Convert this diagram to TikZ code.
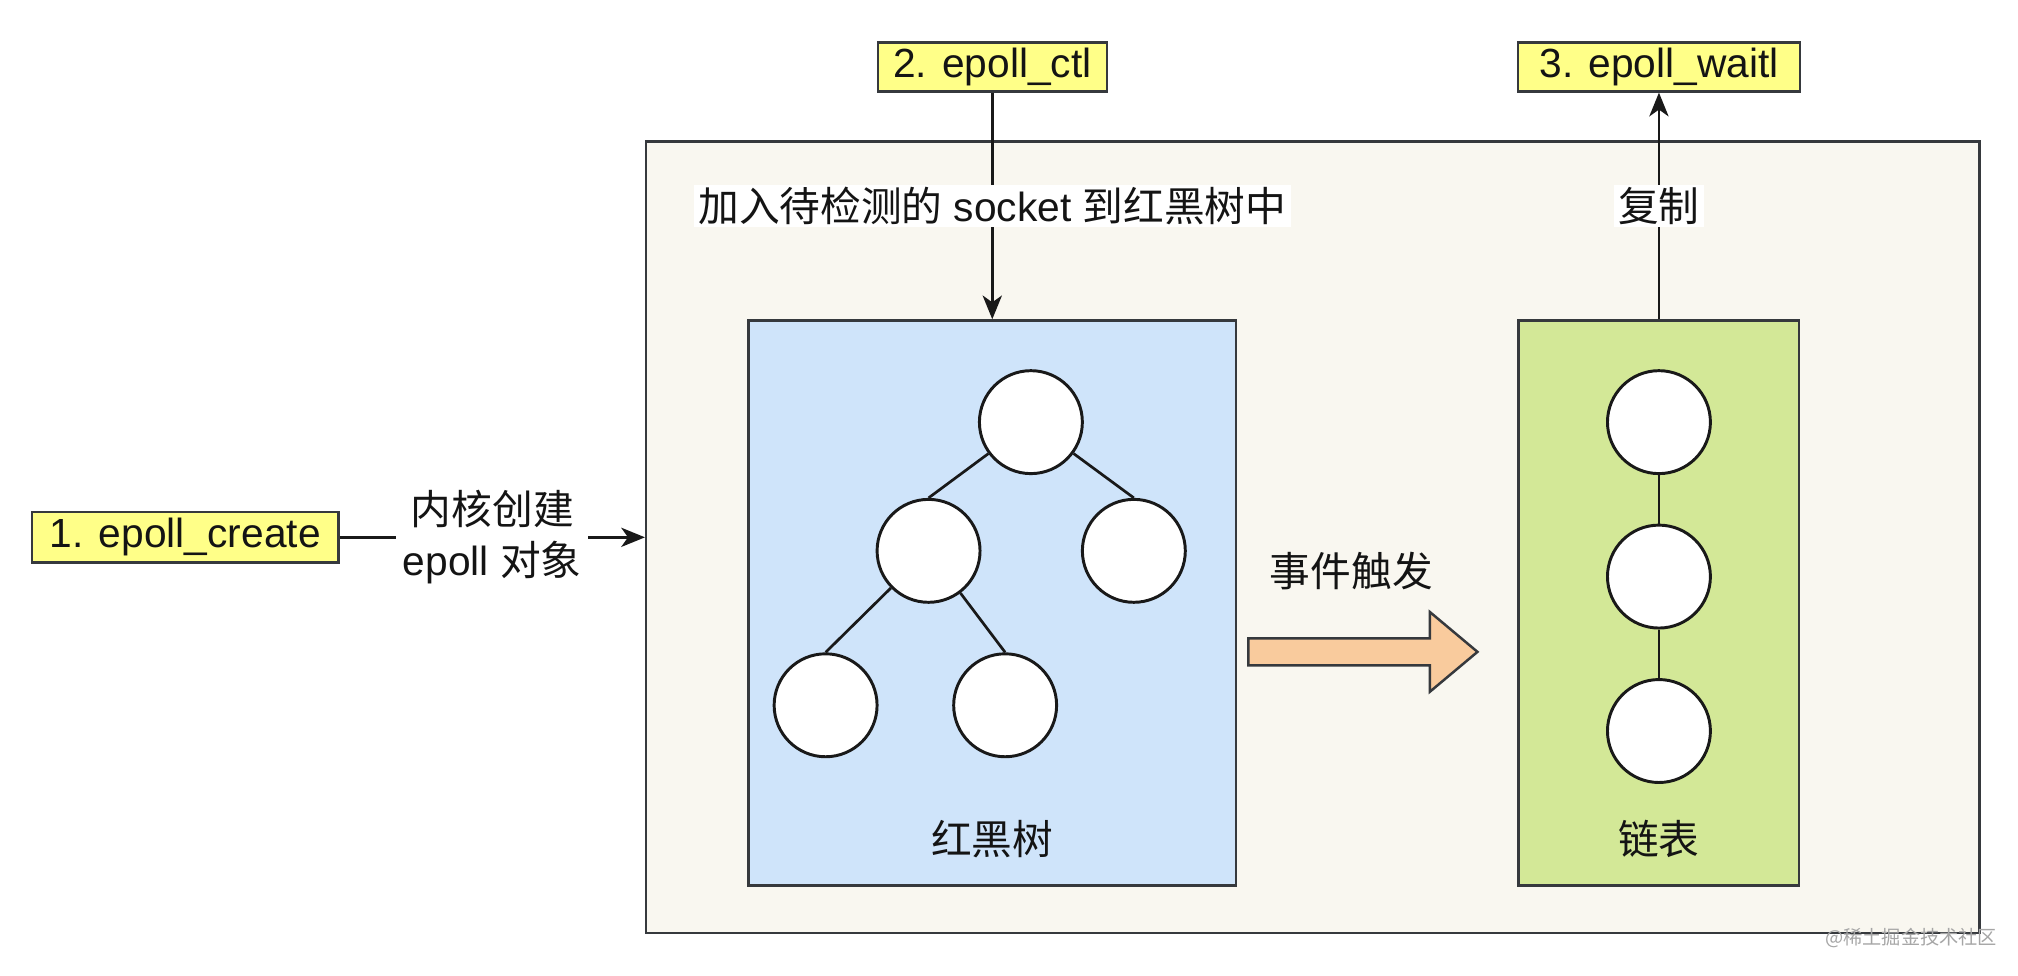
\documentclass[tikz,border=0pt]{standalone}
\usepackage{fontspec}
\setmainfont{Liberation Sans}
\newfontfamily\cjk{Noto Sans CJK SC}
\usetikzlibrary{arrows.meta,shapes.geometric}
\definecolor{strk}{HTML}{36393D}
\definecolor{ylw}{HTML}{FFFF88}
\definecolor{outerbg}{HTML}{F9F7F0}
\definecolor{bluebg}{HTML}{CFE4FA}
\definecolor{greenbg}{HTML}{D3E897}
\definecolor{orangebg}{HTML}{F9CB9D}
\definecolor{txt}{HTML}{141414}
\tikzset{
  fn/.style={draw=strk, fill=ylw, line width=1.1pt, inner sep=0pt, text=txt},
  panel/.style={draw=strk, line width=1.1pt, inner sep=0pt},
  ball/.style={circle, draw=black!90, fill=white, line width=1.3pt, minimum size=1.6cm, inner sep=0pt},
  conn/.style={draw=black!90, line width=1.2pt},
  arr/.style={conn, -{Stealth[length=10.5pt, width=8.5pt, inset=3pt]}},
  lbl/.style={fill=white, inner xsep=2pt, inner ysep=1pt, text=txt},
  plain/.style={text=txt, inner sep=0pt}
}
\begin{document}
\begin{tikzpicture}[x=0.02cm, y=-0.02cm, font=\fontsize{18}{22.7}\selectfont]
\useasboundingbox[fill=white] (0,0) rectangle (1568,758);

% outer container
\node[panel, fill=outerbg, minimum width=20.72cm, minimum height=12.3cm] (outer) at (1020,417.5) {};

% function boxes
\node[fn, minimum width=4.76cm, minimum height=0.78cm] (create) at (144,417.5) {1. epoll\_create};
\node[fn, minimum width=3.56cm, minimum height=0.76cm] (ctl) at (771,52) {2. epoll\_ctl};
\node[fn, minimum width=4.38cm, minimum height=0.76cm] (wait) at (1289,52) {3. epoll\_waitl};

% inner panels
\node[panel, fill=bluebg, minimum width=7.58cm, minimum height=8.78cm] (tree) at (771,468.5) {};
\node[panel, fill=greenbg, minimum width=4.36cm, minimum height=8.78cm] (list) at (1289,468.5) {};

\node[plain] (treelbl) at (771,652) {\cjk 红黑树};
\node[plain] (listlbl) at (1289,652) {\cjk 链表};

% tree nodes
\node[ball] (root) at (801,328) {};
\node[ball] (lc) at (721.5,428) {};
\node[ball] (rc) at (881,428) {};
\node[ball] (ll) at (641.5,548) {};
\node[ball] (lr) at (781,548) {};
\draw[conn] (root) -- (lc.north);
\draw[conn] (root) -- (rc.north);
\draw[conn] (lc) -- (ll.north);
\draw[conn] (lc) -- (lr.north);

% list nodes
\node[ball] (l1) at (1289,328) {};
\node[ball] (l2) at (1289,448) {};
\node[ball] (l3) at (1289,568) {};
\draw[conn] (l1.south) -- (l2.north);
\draw[conn] (l2.south) -- (l3.north);

% connectors with labels
\draw[arr] (create.east) -- (outer.west)
  node[midway, fill=white, inner sep=3pt, align=center, text=txt] (clbl) {{\cjk 内核创建}\\epoll {\cjk 对象}};
\draw[arr] (ctl.south) -- (tree.north)
  node[midway, lbl] (addlbl) {{\cjk 加入待检测的} socket {\cjk 到红黑树中}};
\draw[arr] (list.north) -- (wait.south)
  node[midway, lbl] (cplbl) {\cjk 复制};

% event arrow
\node[plain] (evlbl) at (1050,444) {\cjk 事件触发};
\draw[draw=strk, fill=orangebg, line width=1.1pt, line join=miter]
  (970,496) -- (1111,496) -- (1111,475.5) -- (1148,506.5) -- (1111,537.5) -- (1111,517) -- (970,517) -- cycle;

% watermark
\node[text=black!35, inner sep=0pt, font=\cjk\fontsize{8.5}{10}\selectfont] (wm) at (1485,729) {@稀土掘金技术社区};
\end{tikzpicture}
\end{document}
